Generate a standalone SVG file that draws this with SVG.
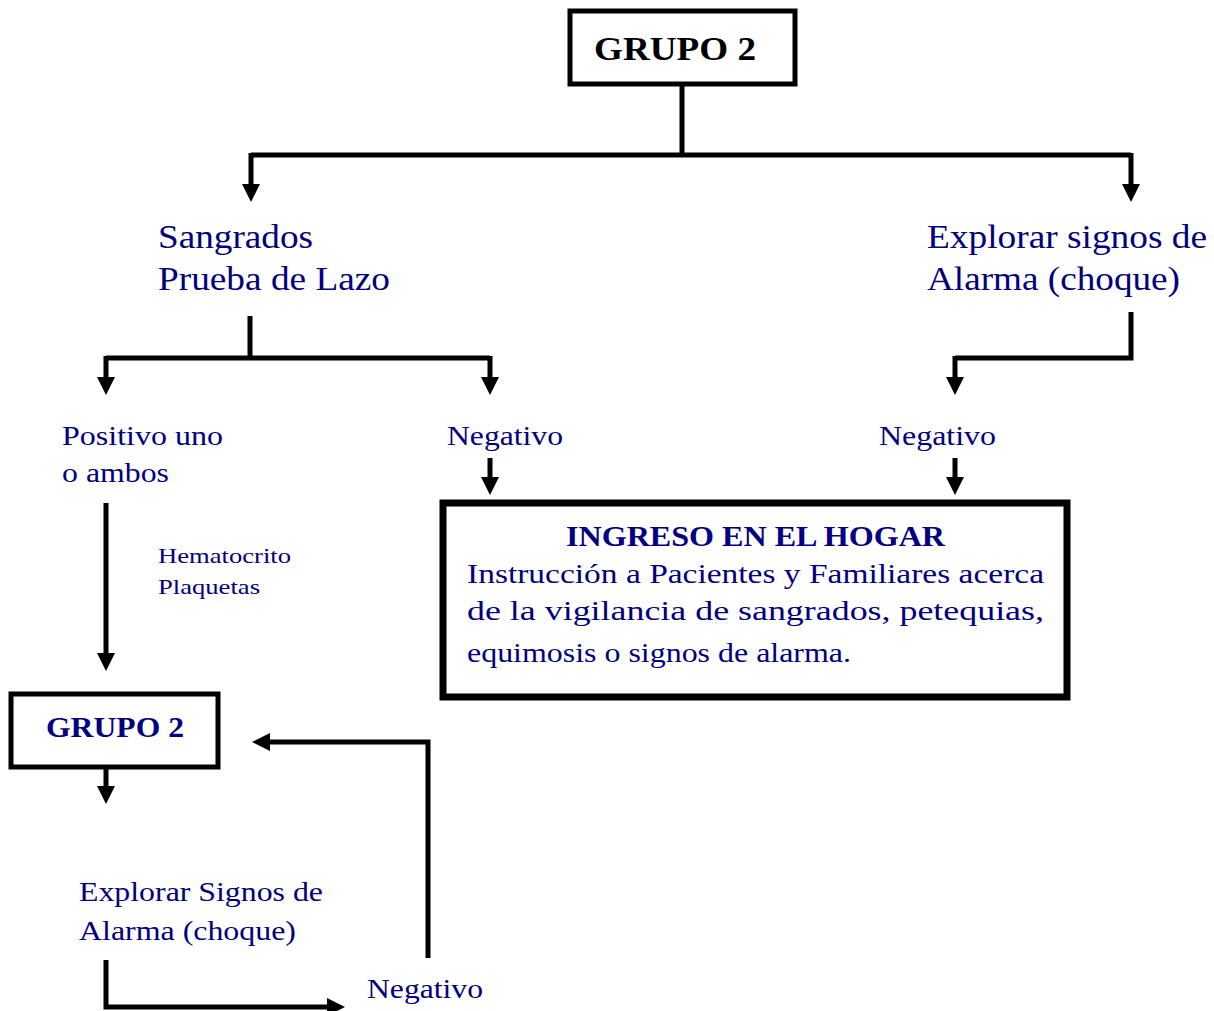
<svg xmlns="http://www.w3.org/2000/svg" width="1214" height="1011" viewBox="0 0 1214 1011">
<style>
.t{font-family:"Liberation Serif","Times New Roman",serif;fill:#000080}
.b{font-weight:bold}
.ln{fill:none;stroke:#000;stroke-width:5;stroke-linejoin:miter}
.ar{marker-end:url(#ah)}
.box{fill:#fff;stroke:#000}
</style>
<defs>
<marker id="ah" markerUnits="userSpaceOnUse" markerWidth="18" markerHeight="18" viewBox="0 0 18 18" refX="0" refY="9" orient="auto">
<path d="M0,0 L18,9 L0,18 z" fill="#000"/>
</marker>
</defs>
<rect width="1214" height="1011" fill="#fff"/>
<g id="connectors">
<path class="ln" d="M682,84 V155"/>
<path class="ln" d="M251,155 H1131"/>
<path class="ln ar" d="M251,153 V184"/>
<path class="ln ar" d="M1131,153 V184"/>
<path class="ln" d="M250,316 V358"/>
<path class="ln" d="M106,358 H490"/>
<path class="ln ar" d="M106,356 V377"/>
<path class="ln ar" d="M490,356 V377"/>
<path class="ln" d="M1131,312 V358 H955"/>
<path class="ln ar" d="M955,356 V377"/>
<path class="ln ar" d="M490,458 V477"/>
<path class="ln ar" d="M955,458 V477"/>
<path class="ln ar" d="M106,503 V653"/>
<path class="ln ar" d="M106,767 V786"/>
<path class="ln ar" d="M106,960 V1007 H327"/>
<path class="ln ar" d="M428,958 V742 H270"/>
</g>
<g id="n-grupo2-top">
<rect class="box" x="570" y="11" width="225" height="73" stroke-width="5"/>
<text class="t b" x="594" y="60" font-size="34" textLength="162" lengthAdjust="spacingAndGlyphs" style="fill:#000">GRUPO 2</text>
</g>
<g id="n-sangrados">
<text class="t" x="158" y="248" font-size="33" textLength="155" lengthAdjust="spacingAndGlyphs">Sangrados</text>
<text class="t" x="158" y="290" font-size="33" textLength="232" lengthAdjust="spacingAndGlyphs">Prueba de Lazo</text>
</g>
<g id="n-explorar-top">
<text class="t" x="927" y="248" font-size="33" textLength="280" lengthAdjust="spacingAndGlyphs">Explorar signos de</text>
<text class="t" x="927" y="290" font-size="33" textLength="253" lengthAdjust="spacingAndGlyphs">Alarma (choque)</text>
</g>
<g id="n-positivo">
<text class="t" x="62" y="445" font-size="27" textLength="161" lengthAdjust="spacingAndGlyphs">Positivo uno</text>
<text class="t" x="62" y="482" font-size="27" textLength="107" lengthAdjust="spacingAndGlyphs">o ambos</text>
</g>
<g id="n-negativo-1">
<text class="t" x="447" y="445" font-size="27" textLength="116" lengthAdjust="spacingAndGlyphs">Negativo</text>
</g>
<g id="n-negativo-2">
<text class="t" x="879" y="445" font-size="27" textLength="117" lengthAdjust="spacingAndGlyphs">Negativo</text>
</g>
<g id="n-ingreso">
<rect class="box" x="443" y="503" width="624" height="194" stroke-width="7"/>
<text class="t b" x="566" y="546" font-size="30" textLength="379" lengthAdjust="spacingAndGlyphs">INGRESO EN EL HOGAR</text>
<text class="t" x="467" y="583" font-size="28" textLength="577" lengthAdjust="spacingAndGlyphs">Instrucción a Pacientes y Familiares acerca</text>
<text class="t" x="467" y="620" font-size="28" textLength="577" lengthAdjust="spacingAndGlyphs">de la vigilancia de sangrados, petequias,</text>
<text class="t" x="467" y="662" font-size="28" textLength="384" lengthAdjust="spacingAndGlyphs">equimosis o signos de alarma.</text>
</g>
<g id="n-hemato">
<text class="t" x="158" y="563" font-size="22" textLength="133" lengthAdjust="spacingAndGlyphs">Hematocrito</text>
<text class="t" x="158" y="594" font-size="22" textLength="102" lengthAdjust="spacingAndGlyphs">Plaquetas</text>
</g>
<g id="n-grupo2-bottom">
<rect class="box" x="11" y="694" width="207" height="73" stroke-width="5"/>
<text class="t b" x="46" y="737" font-size="29" textLength="138" lengthAdjust="spacingAndGlyphs">GRUPO 2</text>
</g>
<g id="n-explorar-bottom">
<text class="t" x="79" y="901" font-size="28" textLength="244" lengthAdjust="spacingAndGlyphs">Explorar Signos de</text>
<text class="t" x="79" y="940" font-size="28" textLength="217" lengthAdjust="spacingAndGlyphs">Alarma (choque)</text>
</g>
<g id="n-negativo-3">
<text class="t" x="367" y="998" font-size="27" textLength="116" lengthAdjust="spacingAndGlyphs">Negativo</text>
</g>
</svg>
